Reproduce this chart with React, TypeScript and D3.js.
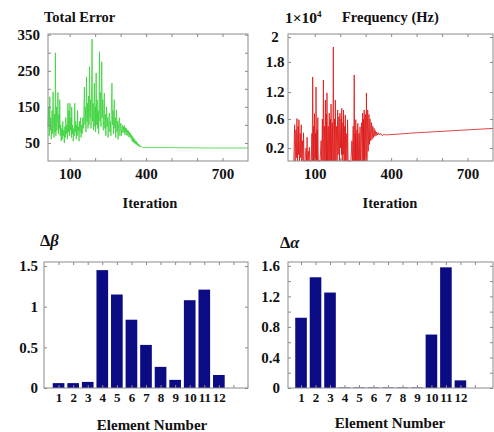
import React, { useRef, useEffect } from 'react';
import * as d3 from 'd3';

// ---- data ----
const errorIter = [
  15, 18, 20, 22, 24, 26, 28, 31, 33, 35,
  37, 39, 41, 43, 44, 46, 48, 50, 52, 54,
  56, 58, 60, 61, 63, 65, 67, 69, 71, 73,
  75, 77, 79, 81, 83, 85, 87, 89, 91, 93,
  95, 97, 99, 101, 103, 105, 107, 108, 110, 112,
  114, 116, 118, 120, 122, 124, 126, 128, 130, 131,
  133, 135, 137, 139, 141, 143, 145, 147, 149, 152,
  154, 156, 158, 160, 162, 164, 166, 168, 170, 172,
  174, 176, 178, 180, 182, 184, 186, 188, 190, 192,
  194, 197, 199, 201, 202, 204, 206, 208, 210, 212,
  214, 217, 219, 221, 223, 226, 228, 230, 232, 234,
  236, 238, 240, 242, 245, 247, 249, 251, 253, 256,
  258, 260, 262, 264, 266, 268, 270, 272, 275, 277,
  279, 281, 284, 286, 288, 290, 292, 295, 297, 299,
  301, 303, 305, 307, 309, 311, 313, 315, 317, 319,
  321, 323, 325, 327, 329, 331, 333, 335, 337, 339,
  341, 343, 345, 347, 349, 351, 353, 355, 357, 359,
  361, 363, 365, 367, 369, 371, 373, 375, 377, 380,
  384, 390, 500, 650, 800
];
const errorValue = [
  95, 150, 70, 178, 85, 120, 60, 140, 75, 192,
  90, 65, 130, 80, 300, 70, 150, 85, 110, 190,
  75, 130, 90, 170, 70, 100, 55, 90, 60, 110,
  70, 85, 50, 95, 65, 120, 75, 100, 60, 160,
  80, 140, 70, 160, 85, 120, 65, 150, 75, 100,
  55, 90, 70, 160, 80, 110, 60, 100, 70, 140,
  85, 95, 55, 110, 80, 120, 65, 100, 75, 120,
  90, 150, 205, 100, 150, 80, 233, 110, 160, 90,
  180, 100, 261, 120, 170, 90, 200, 338, 110, 160,
  85, 216, 95, 150, 80, 244, 100, 170, 90, 140,
  75, 303, 110, 190, 95, 275, 120, 170, 85, 130,
  188, 90, 130, 70, 150, 95, 120, 65, 110, 133,
  80, 110, 70, 150, 216, 100, 140, 75, 170, 90,
  120, 65, 142, 80, 110, 60, 100, 120, 70, 95,
  105, 70, 90, 100, 78, 95, 80, 98, 72, 92,
  78, 90, 70, 86, 72, 84, 66, 80, 66, 76,
  62, 72, 55, 68, 52, 64, 50, 60, 48, 56,
  46, 54, 44, 50, 42, 47, 40, 44, 39, 41,
  38, 37, 37, 36, 36
];

const freqIter = [
  18, 21, 23, 26, 28, 30, 32, 35, 36, 38,
  40, 43, 45, 47, 49, 52, 54, 56, 58, 62,
  66, 68, 70, 72, 76, 77, 79, 81, 86, 89,
  90, 92, 94, 96, 97, 99, 101, 103, 104, 105,
  107, 109, 110, 112, 114, 121, 125, 127, 130, 132,
  134, 136, 138, 140, 142, 144, 146, 147, 148, 150,
  153, 155, 157, 159, 162, 163, 164, 166, 169, 171,
  173, 175, 178, 179, 181, 183, 186, 188, 190, 192,
  195, 197, 199, 201, 204, 205, 206, 208, 211, 212,
  213, 215, 218, 219, 220, 222, 226, 227, 229, 231,
  242, 246, 248, 251, 253, 255, 257, 259, 260, 261,
  263, 266, 267, 269, 271, 274, 275, 278, 280, 284,
  286, 288, 290, 292, 293, 294, 296, 299, 301, 303,
  305, 308, 310, 313, 315, 317, 320, 323, 325, 328,
  330, 333, 336, 338, 341, 343, 347, 350, 355, 359,
  365, 372, 378, 500, 650, 800
];
const freqValue = [
  0, 0.52, 0, 0.45, 0.05, 0.61, 0, 0.5, 0.1, 0.59,
  0, 0.4, 0.05, 0.52, 0, 0.3, 0, 0.41, 0, 0,
  0.2, 0, 0.35, 0, 0.15, 0, 0.21, 0, 0, 0.4,
  0, 1.5, 0, 0.5, 0, 0.72, 0, 0.4, 0, 1.3,
  0, 0.45, 0, 0.63, 0, 0, 0.3, 0, 0.6, 0,
  1.44, 0, 0.5, 0, 1.02, 0, 0.7, 0, 1.18, 0,
  0.5, 0, 0.73, 0, 0.6, 0, 0.93, 0, 0.55, 0,
  1.92, 0, 0.6, 0, 1.02, 0, 0.5, 0, 0.8, 0.1,
  0.65, 0, 0.73, 0.2, 0.6, 0.1, 0.84, 0, 0.55, 0.1,
  0.8, 0, 0.5, 0, 0.69, 0, 0.4, 0, 0.59, 0,
  0, 0.3, 0, 0.5, 0, 1.54, 0, 0.4, 0, 0.59,
  0, 0.45, 0, 0.54, 0, 0.4, 0, 0.49, 0, 0.55,
  0, 0.73, 0, 0.6, 0, 0.8, 0, 0.7, 0, 1.18,
  0, 0.8, 0.15, 0.7, 0.25, 0.6, 0.3, 0.55, 0.32, 0.5,
  0.34, 0.47, 0.36, 0.44, 0.37, 0.42, 0.38, 0.41, 0.38, 0.4,
  0.37, 0.39, 0.38, 0.41, 0.44, 0.47
];

const elements = [1, 2, 3, 4, 5, 6, 7, 8, 9, 10, 11, 12];
const deltaBeta = [0.06, 0.06, 0.075, 1.45, 1.15, 0.84, 0.53, 0.26, 0.1, 1.08, 1.21, 0.16];
const deltaAlpha = [0.92, 1.45, 1.25, 0.006, 0.006, 0.006, 0.006, 0.006, 0.006, 0.7, 1.58, 0.1];

// ticks
const iterTicks = [100, 200, 300, 400, 500, 600, 700];
const iterLabels = [100, 400, 700];
const errorTicks = [50, 100, 150, 200, 250, 300, 350];
const errorLabels = [50, 150, 250, 350];
const freqTicks = [0.2, 0.6, 1.2, 1.8, 2];
const freqLabels = [0.2, 0.6, 1.2, 1.8, 2];
const elementTicks = [1, 2, 3, 4, 5, 6, 7, 8, 9, 10, 11, 12, 13];
const betaTicks = [0, 0.5, 1, 1.5];
const betaLabels = [0, 0.5, 1, 1.5];
const alphaTicks = [0, 0.2, 0.4, 0.6, 0.8, 1, 1.2, 1.4, 1.6];
const alphaLabels = [0, 0.4, 0.8, 1.2, 1.6];

const FONT = '"Liberation Serif", "Times New Roman", serif';
const W = 494;
const H = 432;

// draw frame + inward ticks (matlab look)
function drawAxes(svg, box, x, y, cfg) {
  const g = svg.append('g');
  const xf = d => (cfg.xLabels.includes(d) ? String(d) : '');
  const yf = d => (cfg.yLabels.includes(d) ? String(d) : '');

  g.append('g')
    .attr('class', 'xb')
    .attr('transform', `translate(0,${box.bottom})`)
    .call(d3.axisBottom(x).tickValues(cfg.xTicks).tickSize(-3).tickPadding(cfg.xPad).tickFormat(xf));
  g.append('g')
    .attr('transform', `translate(0,${box.top})`)
    .call(d3.axisTop(x).tickValues(cfg.xTicks).tickSize(-3).tickFormat(() => ''));
  const yl = g.append('g')
    .attr('class', 'yl')
    .attr('transform', `translate(${box.left},0)`)
    .call(d3.axisLeft(y).tickValues(cfg.yTicks).tickSize(-3).tickPadding(cfg.yPad).tickFormat(yf));
  g.append('g')
    .attr('transform', `translate(${box.right},0)`)
    .call(d3.axisRight(y).tickValues(cfg.yTicks).tickSize(-3).tickFormat(() => ''));

  g.selectAll('.domain').remove();
  g.selectAll('line').attr('stroke', '#8a8a8a');
  g.selectAll('text')
    .attr('font-family', FONT)
    .attr('font-weight', 'bold')
    .attr('fill', '#111');
  g.selectAll('.xb text').attr('font-size', cfg.xFont);
  yl.selectAll('text').attr('font-size', cfg.yFont);
  if (cfg.yCenter) {
    yl.selectAll('text').attr('text-anchor', 'middle').attr('x', -cfg.yCenter);
  }
  return g;
}

function frame(svg, box) {
  svg.append('rect')
    .attr('x', box.left)
    .attr('y', box.top)
    .attr('width', box.right - box.left)
    .attr('height', box.bottom - box.top)
    .attr('fill', 'none')
    .attr('stroke', '#8a8a8a')
    .attr('stroke-width', 1);
}

function label(svg, text, x, y, size, anchor = 'start') {
  return svg.append('text')
    .attr('x', x)
    .attr('y', y)
    .attr('font-family', FONT)
    .attr('font-weight', 'bold')
    .attr('font-size', size)
    .attr('fill', '#111')
    .attr('text-anchor', anchor)
    .text(text);
}

const App = () => {
  const svgRef = useRef(null);

  useEffect(() => {
    const svg = d3.select(svgRef.current);
    svg.selectAll('*').remove();

    // ---------- Total Error ----------
    const eBox = { left: 48, right: 248, top: 34, bottom: 161 };
    const ex = d3.scaleLinear().domain([15, 800]).range([eBox.left, eBox.right]);
    const ey = d3.scaleLinear().domain([0, 352]).range([eBox.bottom, eBox.top]);
    const errData = errorIter.map((d, i) => [d, errorValue[i]]);
    svg.append('path')
      .datum(errData)
      .attr('fill', 'none')
      .attr('stroke', '#3ad23a')
      .attr('stroke-width', 0.8)
      .attr('d', d3.line().x(d => ex(d[0])).y(d => ey(d[1])));
    drawAxes(svg, eBox, ex, ey, {
      xTicks: iterTicks, xLabels: iterLabels, yTicks: errorTicks, yLabels: errorLabels,
      xPad: 7, yPad: 8, xFont: 15, yFont: 15
    });
    frame(svg, eBox);
    label(svg, 'Total Error', 44, 22, 14.5);
    label(svg, 'Iteration', 150, 208, 14.5, 'middle');

    // ---------- Frequency ----------
    const fBox = { left: 288, right: 493, top: 34, bottom: 161 };
    const fx = d3.scaleLinear().domain([-5, 800]).range([fBox.left, fBox.right]);
    // the printed axis is not evenly spaced; follow its labels
    const fh = fBox.bottom - fBox.top;
    const fy = d3.scaleLinear()
      .domain([0, 0.2, 0.6, 1.2, 1.8, 2])
      .range([0, 0.102, 0.331, 0.543, 0.78, 0.976].map(t => fBox.bottom - t * fh));
    const freqData = freqIter.map((d, i) => [d, freqValue[i]]);
    svg.append('path')
      .datum(freqData)
      .attr('fill', 'none')
      .attr('stroke', '#dd1414')
      .attr('stroke-width', 0.8)
      .attr('d', d3.line().x(d => fx(d[0])).y(d => fy(d[1])));
    drawAxes(svg, fBox, fx, fy, {
      xTicks: iterTicks, xLabels: iterLabels, yTicks: freqTicks, yLabels: freqLabels,
      xPad: 7, yPad: 8, xFont: 15, yFont: 15, yCenter: 13
    });
    frame(svg, fBox);
    const sci = label(svg, '1×10', 285, 23, 15.5);
    sci.append('tspan').attr('dy', -6).attr('font-size', 9).text('4');
    label(svg, 'Frequency (Hz)', 342, 22, 14.5);
    label(svg, 'Iteration', 390, 208, 14.5, 'middle');

    // ---------- bar panels ----------
    const bars = (box, domX, domY, values, yTicks, yLabels, yPad) => {
      const x = d3.scaleLinear().domain(domX).range([box.left, box.right]);
      const y = d3.scaleLinear().domain(domY).range([box.bottom, box.top]);
      const bw = x(0.8) - x(0);
      svg.append('g')
        .attr('fill', '#0b0b84')
        .selectAll('rect')
        .data(elements)
        .join('rect')
        .attr('x', d => x(d) - bw / 2)
        .attr('y', (d, i) => y(values[i]))
        .attr('width', bw)
        .attr('height', (d, i) => y(0) - y(values[i]));
      drawAxes(svg, box, x, y, {
        xTicks: elementTicks, xLabels: elements, yTicks, yLabels,
        xPad: 5, yPad, xFont: 13, yFont: 15
      });
      frame(svg, box);
    };

    const bBox = { left: 44, right: 248, top: 262, bottom: 388 };
    bars(bBox, [0, 14], [0, 1.55], deltaBeta, betaTicks, betaLabels, 6);
    const db = label(svg, 'Δ', 40, 246, 16.5);
    db.append('tspan').attr('font-style', 'italic').text('β');
    label(svg, 'Element Number', 152, 430, 15, 'middle');

    const aBox = { left: 288, right: 493, top: 262, bottom: 388 };
    bars(aBox, [0.1, 14.25], [0, 1.65], deltaAlpha, alphaTicks, alphaLabels, 8);
    const da = label(svg, 'Δ', 280, 248, 16.5);
    da.append('tspan').attr('font-style', 'italic').text('α');
    label(svg, 'Element Number', 390, 428, 15, 'middle');
  }, []);

  return (
    <svg
      ref={svgRef}
      width={W}
      height={H}
      style={{ position: 'absolute', left: 0, top: 0, background: '#fff' }}
    />
  );
};

export default App;
